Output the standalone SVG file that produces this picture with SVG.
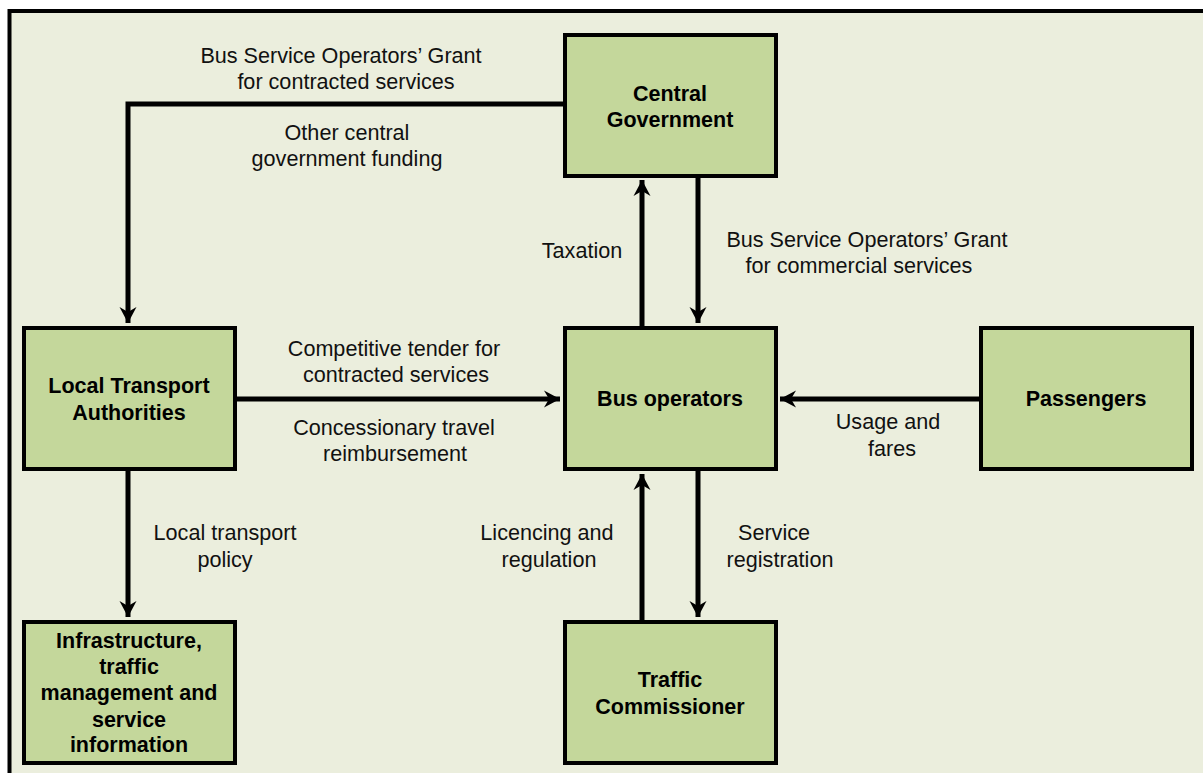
<svg xmlns="http://www.w3.org/2000/svg" width="1203" height="773" viewBox="0 0 1203 773">
<style>
.node rect{fill:#C4D79B;stroke:#000;stroke-width:4;}
.nt{font-family:"Liberation Sans",Arial,sans-serif;font-weight:bold;font-size:21.5px;fill:#000;text-anchor:middle;}
.lbl{font-family:"Liberation Sans",Arial,sans-serif;font-size:21.6px;fill:#111;text-anchor:middle;}
.conn path{fill:none;stroke:#000;stroke-width:5;marker-end:url(#ah);}
</style>
<defs>
<marker id="ah" markerUnits="userSpaceOnUse" markerWidth="20" markerHeight="20" viewBox="-18 -10 20 20" refX="0" refY="0" orient="auto">
<path d="M0,0 L-16,-8.5 L-11,0 L-16,8.5 Z" fill="#000"/>
</marker>
</defs>
<rect x="0" y="0" width="1203" height="773" fill="#fff"/>
<rect x="9.5" y="11" width="1200" height="780" fill="#EBEEDD" stroke="#000" stroke-width="4"/>
<g class="conn" id="connectors">
<path d="M563,104 H128 V323"/>
<path d="M642,326 V180"/>
<path d="M698,177 V323"/>
<path d="M236,399 H560"/>
<path d="M979,399 H780"/>
<path d="M642,620 V474"/>
<path d="M698,471 V617"/>
<path d="M128,470 V617"/>
</g>
<g id="labels">
<text class="lbl" x="341" y="63">Bus Service Operators’ Grant</text>
<text class="lbl" x="346" y="89">for contracted services</text>
<text class="lbl" x="347" y="140">Other central</text>
<text class="lbl" x="347" y="166">government funding</text>
<text class="lbl" x="582" y="258">Taxation</text>
<text class="lbl" x="867" y="247">Bus Service Operators’ Grant</text>
<text class="lbl" x="859" y="273">for commercial services</text>
<text class="lbl" x="394" y="356">Competitive tender for</text>
<text class="lbl" x="396" y="382">contracted services</text>
<text class="lbl" x="394" y="435">Concessionary travel</text>
<text class="lbl" x="395" y="461">reimbursement</text>
<text class="lbl" x="888" y="429">Usage and</text>
<text class="lbl" x="892" y="456">fares</text>
<text class="lbl" x="225" y="540">Local transport</text>
<text class="lbl" x="225" y="567">policy</text>
<text class="lbl" x="547" y="540">Licencing and</text>
<text class="lbl" x="549" y="567">regulation</text>
<text class="lbl" x="774" y="540">Service</text>
<text class="lbl" x="780" y="567">registration</text>
</g>
<g class="node" id="central-government">
<rect x="565" y="35" width="211" height="141"/>
<text class="nt" x="670" y="101">Central</text>
<text class="nt" x="670" y="127">Government</text>
</g>
<g class="node" id="local-transport-authorities">
<rect x="24" y="328" width="211" height="141"/>
<text class="nt" x="129" y="393">Local Transport</text>
<text class="nt" x="129" y="420">Authorities</text>
</g>
<g class="node" id="bus-operators">
<rect x="565" y="328" width="211" height="141"/>
<text class="nt" x="670" y="406">Bus operators</text>
</g>
<g class="node" id="passengers">
<rect x="981" y="328" width="211" height="141"/>
<text class="nt" x="1086" y="406">Passengers</text>
</g>
<g class="node" id="infrastructure">
<rect x="24" y="622" width="211" height="141"/>
<text class="nt" x="129" y="648">Infrastructure,</text>
<text class="nt" x="129" y="674">traffic</text>
<text class="nt" x="129" y="700">management and</text>
<text class="nt" x="129" y="727">service</text>
<text class="nt" x="129" y="752">information</text>
</g>
<g class="node" id="traffic-commissioner">
<rect x="565" y="622" width="211" height="141"/>
<text class="nt" x="670" y="687">Traffic</text>
<text class="nt" x="670" y="714">Commissioner</text>
</g>
</svg>
